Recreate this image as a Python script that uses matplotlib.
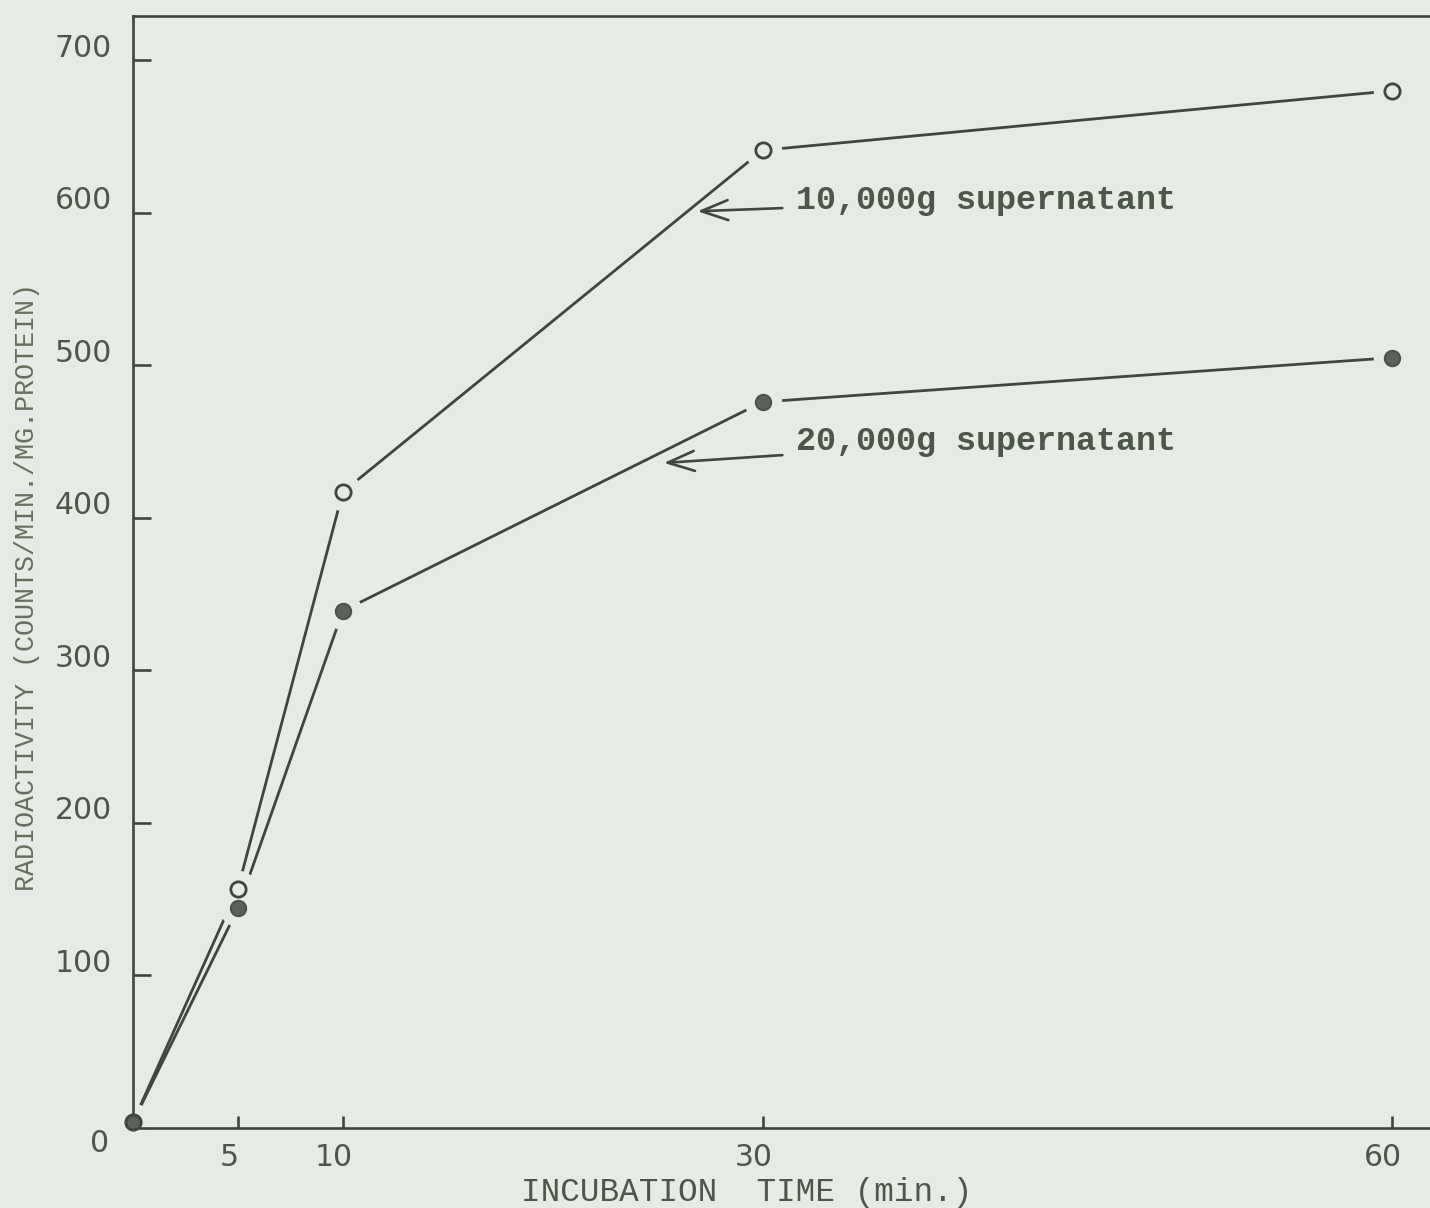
import matplotlib
matplotlib.use("Agg")
import matplotlib.pyplot as plt
from matplotlib.transforms import ScaledTranslation

# ---- data ----
time_min = [0, 5, 10, 30, 60]
sup_10000 = [4, 157, 417, 641, 680]
sup_20000 = [4, 144, 339, 476, 505]
x_ticks = [5, 10, 30, 60]
y_ticks = [0, 100, 200, 300, 400, 500, 600, 700]
label_10000 = "10,000g supernatant"
label_20000 = "20,000g supernatant"
xlabel = "INCUBATION  TIME (min.)"
ylabel = "RADIOACTIVITY (COUNTS/MIN./MG.PROTEIN)"

BG = "#e7ebe5"
INK = "#3e463d"
TXT = "#4c5649"

fig = plt.figure(figsize=(14.30, 12.08), dpi=100, facecolor=BG)
ax = fig.add_axes([133 / 1430, 80 / 1208, 1 - 133 / 1430, (1128 - 16) / 1208])
ax.set_facecolor(BG)
ax.set_xlim(0, 61.8)
ax.set_ylim(0, 729)

# lines
for ys in (sup_10000, sup_20000):
    ax.plot(time_min, ys, color=INK, lw=2.0, zorder=2, solid_capstyle="butt")
# halos to create gaps near points (hand-drawn look)
for ys in (sup_10000, sup_20000):
    ax.plot(time_min, ys, ls="none", marker="o", ms=27, mfc=BG, mec="none",
            zorder=2.2, clip_on=False)
# markers (filled first so the open circle sits on top at the origin)
ax.plot(time_min, sup_20000, ls="none", marker="o", ms=11, mfc="#5b6259",
        mec="#4a5249", mew=1.5, zorder=3, clip_on=False)
ax.plot(time_min, sup_10000, ls="none", marker="o", ms=11, mfc="none", mec=INK,
        mew=2.0, zorder=3.1, clip_on=False)

# spines
for s in ("left", "bottom", "top"):
    ax.spines[s].set_color(INK)
    ax.spines[s].set_linewidth(1.9)
ax.spines["right"].set_visible(False)

ax.set_xticks(x_ticks)
ax.set_xticklabels([str(v) for v in x_ticks])
ax.set_yticks(y_ticks)
ax.set_yticklabels([str(v) if v else "" for v in y_ticks])
ax.tick_params(axis="y", direction="in", length=13, width=1.9, color=INK,
               pad=15, labelsize=21.5, labelcolor=TXT)
ax.tick_params(axis="x", direction="in", length=9, width=1.9, color=INK,
               pad=11, labelsize=21.5, labelcolor=TXT)
for lab in ax.get_yticklabels():
    lab.set_transform(lab.get_transform() + ScaledTranslation(0, 15 / 100, fig.dpi_scale_trans))
for lab in ax.get_xticklabels():
    lab.set_transform(lab.get_transform() + ScaledTranslation(-9 / 100, 0, fig.dpi_scale_trans))

# zero label at corner
fig.text(100 / 1430, 1 - 1143 / 1208, "0", fontsize=21.5, color=TXT,
         ha="center", va="center")

mono = "Liberation Mono"
arrow = dict(arrowstyle="->,head_length=0.8,head_width=0.3",
             color=INK, lw=1.9, shrinkA=8, shrinkB=0)
ax.annotate(label_10000, xy=(26.9, 601), xytext=(31.6, 608),
            fontsize=24, family=mono, fontweight="bold", color=TXT,
            va="center", ha="left", arrowprops=arrow)
ax.annotate(label_20000, xy=(25.3, 436), xytext=(31.6, 450),
            fontsize=24, family=mono, fontweight="bold", color=TXT,
            va="center", ha="left", arrowprops=arrow)

fig.text(747 / 1430, 1 - 1193 / 1208, xlabel, fontsize=23.5, family=mono,
         color=TXT, ha="center", va="center")
fig.text(27 / 1430, 1 - 587 / 1208, ylabel, fontsize=19.3, family=mono,
         color="#66705f", ha="center", va="center", rotation=90)

fig.savefig("out.png", dpi=100, facecolor=BG)
